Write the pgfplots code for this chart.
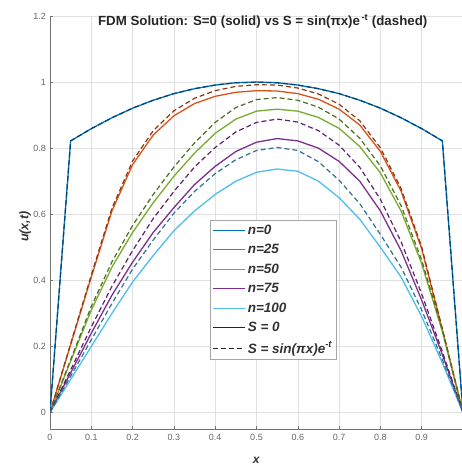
\documentclass[border=0pt]{standalone}
\usepackage{fontspec}
\setmainfont{Liberation Sans}
\usepackage{pgfplots}
\pgfplotsset{compat=1.18}
\usepackage{pgfplotstable}
\definecolor{mblue}{rgb}{0,0.447,0.741}
\definecolor{morange}{rgb}{0.85,0.325,0.098}
\definecolor{mgreen}{rgb}{0.466,0.674,0.188}
\definecolor{mpurple}{rgb}{0.494,0.184,0.556}
\definecolor{mcyan}{rgb}{0.301,0.745,0.933}
\pgfplotstableread{
x     n0     n25    n50    n75    n100
0     0      0      0      0      0
0.05  0.822  0.205  0.155  0.120  0.100
0.10  0.859  0.410  0.310  0.240  0.200
0.15  0.892  0.610  0.440  0.355  0.300
0.20  0.921  0.750  0.545  0.455  0.395
0.25  0.945  0.840  0.635  0.545  0.475
0.30  0.965  0.898  0.715  0.620  0.550
0.35  0.980  0.935  0.785  0.690  0.610
0.40  0.991  0.957  0.845  0.745  0.660
0.45  0.998  0.969  0.888  0.790  0.700
0.50  1.000  0.974  0.912  0.818  0.727
0.55  0.998  0.973  0.918  0.829  0.737
0.60  0.991  0.965  0.912  0.822  0.730
0.65  0.980  0.948  0.893  0.800  0.700
0.70  0.965  0.918  0.860  0.760  0.650
0.75  0.945  0.870  0.805  0.700  0.585
0.80  0.921  0.790  0.725  0.610  0.500
0.85  0.892  0.670  0.610  0.490  0.410
0.90  0.859  0.495  0.450  0.340  0.290
0.95  0.822  0.250  0.245  0.175  0.150
1.00  0      0      0      0      0
}\solid
\pgfplotstableread{
x     n0     n25    n50    n75    n100
0     0      0      0      0      0
0.05  0.822  0.208  0.160  0.129  0.110
0.10  0.859  0.416  0.321  0.259  0.220
0.15  0.892  0.618  0.456  0.382  0.330
0.20  0.921  0.761  0.566  0.490  0.434
0.25  0.945  0.853  0.660  0.587  0.522
0.30  0.965  0.913  0.743  0.669  0.603
0.35  0.980  0.951  0.816  0.743  0.669
0.40  0.991  0.974  0.878  0.802  0.723
0.45  0.998  0.987  0.923  0.849  0.765
0.50  1.000  0.992  0.947  0.878  0.793
0.55  0.998  0.991  0.953  0.888  0.802
0.60  0.991  0.982  0.945  0.879  0.793
0.65  0.980  0.964  0.924  0.853  0.759
0.70  0.965  0.933  0.888  0.809  0.703
0.75  0.945  0.883  0.830  0.742  0.632
0.80  0.921  0.801  0.746  0.645  0.539
0.85  0.892  0.678  0.626  0.517  0.440
0.90  0.859  0.501  0.461  0.359  0.310
0.95  0.822  0.253  0.250  0.184  0.160
1.00  0      0      0      0      0
}\dashedt
\begin{document}
\begin{tikzpicture}[x=1pt,y=1pt]
\begin{axis}[
  at={(50pt,36pt)}, anchor=south west,
  width=413pt, height=413pt, scale only axis,
  xmin=0, xmax=1, ymin=-0.05, ymax=1.2,
  xtick={0,0.1,...,0.9}, ytick={0,0.2,...,1.2},
  xticklabels={0,0.1,0.2,0.3,0.4,0.5,0.6,0.7,0.8,0.9},
  yticklabels={0,0.2,0.4,0.6,0.8,1,1.2},
  axis x line*=bottom, axis y line*=left,
  axis line style={black!55, line width=0.6pt, -},
  tick style={black!55, line width=0.5pt},
  tick align=inside, major tick length=3pt,
  grid=major, grid style={black!12, line width=0.5pt},
  ticklabel style={font=\fontsize{9}{10}\selectfont, text=black!60},
  /pgf/number format/assume math mode=true,
  xticklabel style={yshift=-2pt},
  yticklabel style={xshift=-0.5pt},
  title={FDM Solution: S=0 (solid) vs S = sin(πx)e\textsuperscript{\,-t} (dashed)},
  title style={at={(axis description cs:0.515,0.973)}, anchor=center, yshift=0pt, font=\bfseries\fontsize{13.3}{15}\selectfont, text=black!85},
  xlabel={\textbf{\textit{x}}},
  xlabel style={at={(axis description cs:0.5,-0.075)}, anchor=center, font=\fontsize{12}{13}\selectfont, text=black!80},
  ylabel={\textbf{\textit{u(x,t)}}},
  ylabel style={at={(axis description cs:-0.06,0.49)}, anchor=center, font=\fontsize{12.5}{13}\selectfont, text=black!80},
  legend style={at={(axis description cs:0.387,0.506)}, anchor=north west,
    font=\bfseries\itshape\fontsize{13.5}{15}\selectfont, draw=black!35, fill=white,
    inner sep=2.5pt, row sep=4.6pt, text=black!80,
    /tikz/every even column/.append style={column sep=0pt}},
  legend cell align=left,
  legend image code/.code={\draw[mark repeat=2,mark phase=2,#1] plot coordinates {(0pt,0pt) (16pt,0pt) (32pt,0pt)};},
]
\addplot[mblue, line width=1.3pt] table[x=x,y=n0]{\solid};
\addlegendentry{n=0}
\addplot[morange, line width=1.3pt] table[x=x,y=n25]{\solid};
\addlegendentry{n=25}
\addplot[mgreen, line width=1.3pt] table[x=x,y=n50]{\solid};
\addlegendentry{n=50}
\addplot[mpurple, line width=1.3pt] table[x=x,y=n75]{\solid};
\addlegendentry{n=75}
\addplot[mcyan, line width=1.3pt] table[x=x,y=n100]{\solid};
\addlegendentry{n=100}
\addplot[forget plot, mblue!60!black, dash pattern=on 5pt off 3pt, line width=1.2pt] table[x=x,y=n0]{\dashedt};
\addplot[forget plot, morange!65!black, dash pattern=on 5pt off 3pt, line width=1.2pt] table[x=x,y=n25]{\dashedt};
\addplot[forget plot, mgreen!65!black, dash pattern=on 5pt off 3pt, line width=1.2pt] table[x=x,y=n50]{\dashedt};
\addplot[forget plot, mpurple!75!black, dash pattern=on 5pt off 3pt, line width=1.2pt] table[x=x,y=n75]{\dashedt};
\addplot[forget plot, mcyan!60!black, dash pattern=on 5pt off 3pt, line width=1.2pt] table[x=x,y=n100]{\dashedt};
\addlegendimage{black!85, line width=1.3pt}
\addlegendentry{S = 0}
\addlegendimage{black!85, dash pattern=on 5pt off 3pt, line width=1.3pt}
\addlegendentry{S = sin(πx)e\textsuperscript{-t}}
\end{axis}
\pgfresetboundingbox
\path[use as bounding box] (0,0) rectangle (462,465);
\end{tikzpicture}
\end{document}
